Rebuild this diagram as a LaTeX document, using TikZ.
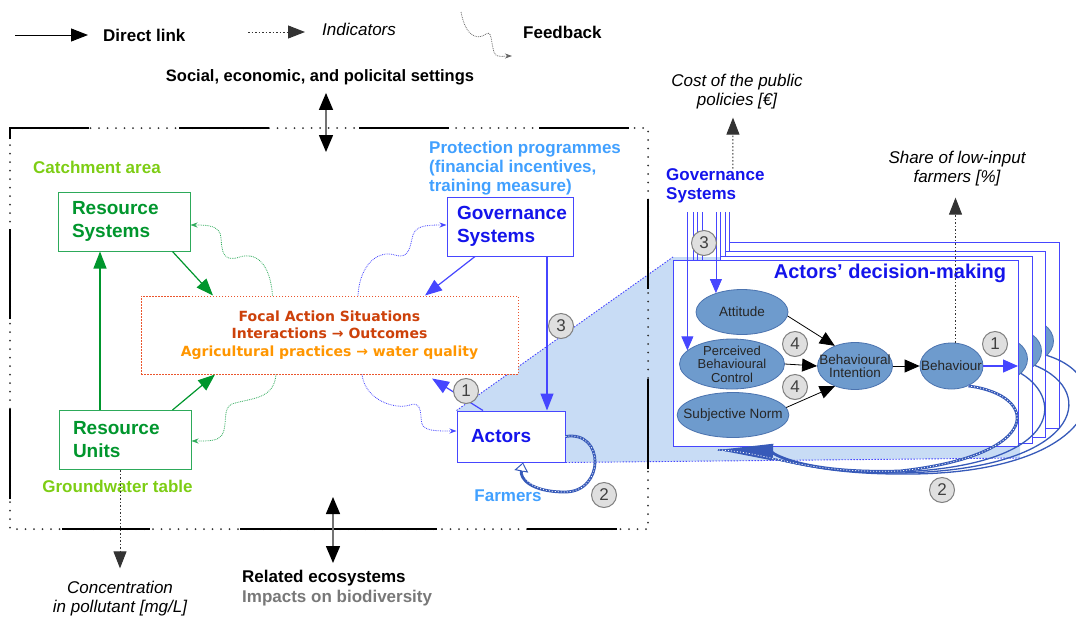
\documentclass[tikz,border=0pt]{standalone}
\usepackage{fontspec}
\setmainfont{Liberation Sans}
\newfontfamily\dejavu{DejaVu Sans}
\usetikzlibrary{arrows.meta, positioning, shapes.geometric, backgrounds}

\definecolor{iadgreen}{RGB}{0,150,45}
\definecolor{iadlgreen}{RGB}{125,205,20}
\definecolor{boxgreen}{RGB}{45,170,90}
\definecolor{iadblue}{RGB}{20,20,235}
\definecolor{boxblue}{RGB}{70,70,255}
\definecolor{iadlblue}{RGB}{65,160,255}
\definecolor{focred}{RGB}{205,65,10}
\definecolor{focorange}{RGB}{255,150,0}
\definecolor{focborder}{RGB}{235,85,45}
\definecolor{tpbfill}{RGB}{110,155,205}
\definecolor{tpbline}{RGB}{75,115,175}
\definecolor{zoomshade}{RGB}{200,220,245}
\definecolor{loopblue}{RGB}{55,90,185}
\definecolor{ecogray}{RGB}{120,120,120}

\tikzset{
  >={Triangle[length=17pt,width=13pt]},
  sysbox/.style={draw, rectangle, fill=white, line width=1pt, minimum height=59pt, align=left, inner ysep=0pt,
                 font=\fontsize{19}{23}\selectfont\bfseries},
  lbl/.style={inner sep=0pt, font=\fontsize{17}{19}\selectfont\bfseries},
  ind/.style={inner sep=0pt, align=center, font=\fontsize{17}{19}\selectfont\itshape},
  indarrow/.style={->, dash pattern=on 1.5pt off 2pt, line width=1pt, draw=black!80},
  dblarrow/.style={<->, >={Triangle[length=17pt,width=14pt,color=black]}, draw=black!55, line width=1.5pt},
  fback/.style={densely dotted, line width=0.8pt, -{Stealth[length=7pt,width=5pt]}},
  tpb/.style={ellipse, draw=tpbline, fill=tpbfill, line width=0.8pt, inner xsep=-10pt, inner ysep=-2pt, align=center,
              text=black!85, font=\fontsize{13.5}{13.5}\selectfont},
  badge/.style={circle, draw=gray, fill=gray!25, line width=1pt, minimum size=25pt, inner sep=0pt, text=black!75,
                font=\fontsize{17}{17}\selectfont},
  govline/.style={draw=boxblue, line width=0.8pt},
  tpbarrow/.style={->, >={Triangle[length=15pt,width=13pt]}, line width=0.8pt},
  loopcurve/.style={draw=loopblue, line width=1.3pt},
  hatchloop/.style={draw=loopblue, line width=2.8pt,
                    postaction={draw=white, line width=0.8pt, dash pattern=on 1pt off 2pt, -}},
}

\begin{document}
\begin{tikzpicture}[x=1pt, y=-1pt, node distance=8pt]
\useasboundingbox (0,0) rectangle (1076,619);

\draw[line width=2pt, line cap=round, dash pattern=on 0pt off 8.5pt, draw=black!80] (10,128) rectangle (648,529);
\draw[line width=1.2pt, dash pattern=on 90pt off 90pt, dash phase=150pt] (10,529) -- (10,128) -- (648,128) -- (648,529);
\draw[line width=1.2pt, dash pattern=on 88pt off 90pt on 197pt off 90pt on 90pt off 140pt, dash phase=643pt] (10,529) -- (648,529);

\node (dlink) [lbl, anchor=west] at (103,35) {Direct link};
\coordinate (dl0) at (15,35);
\draw[->, line width=1pt] (dl0) -- ([xshift=-15pt]dlink.west);
\node (indic) [ind, anchor=west] at (322,29) {Indicators};
\coordinate (in0) at (248,32);
\draw[indarrow] (in0) -- ([xshift=-17pt,yshift=-3pt]indic.west);
\node (fbk) [lbl, anchor=west] at (523,32) {Feedback};
\coordinate (fb0) at (461,12);
\draw[fback, draw=black!60] (fb0) .. controls (466,38) and (478,40) .. (486,34) .. controls (494,28) and (490,56) .. (498,56)
      .. controls (502,57) and (506,56) .. ([xshift=-11pt,yshift=-24pt]fbk.west);

\node (soc) [lbl, font=\fontsize{16.5}{18}\selectfont\bfseries] at (320,77) {Social, economic, and policital settings};
\coordinate (soc1) at (326,152);
\draw[dblarrow] ([yshift=-8pt]soc.south -| soc1) -- (soc1);

\node (eco) [lbl, font=\fontsize{17}{20}\selectfont\bfseries, align=left, anchor=north west] at (242,570)
      {Related ecosystems\\\textcolor{ecogray}{Impacts on biodiversity}};
\coordinate (eco0) at (333,497);
\draw[dblarrow] (eco0) -- ([yshift=7pt]eco.north -| eco0);

\node (rs) [sysbox, draw=boxgreen, text=iadgreen, text width=104pt, inner xsep=14pt] at (124,221.5) {Resource\\Systems};
\node (ru) [sysbox, draw=boxgreen, text=iadgreen, text width=104pt, inner xsep=14pt] at (125,440) {Resource\\Units};
\node (catch) [lbl, text=iadlgreen, anchor=west] at (33,167) {Catchment area};
\node (gwt) [lbl, text=iadlgreen, below=10pt of ru, xshift=-7.5pt] {Groundwater table};
\node (conc) [ind] at (120,599) {Concentration\\in pollutant [mg/L]};
\draw[indarrow] ([xshift=-5pt]ru.south) -- ([yshift=13pt]conc.north);

\node (fas) [draw=focborder, fill=white, dash pattern=on 1.5pt off 1.5pt, line width=1pt, minimum width=377pt,
             minimum height=78pt, align=center, inner sep=0pt, font=\dejavu\bfseries\fontsize{14}{17.5}\selectfont]
      at (329.5,335) {\textcolor{focred}{Focal Action Situations}\\\textcolor{focred}{Interactions → Outcomes}\\
                      \textcolor{focorange}{Agricultural practices → water quality}};

\node (gov) [sysbox, draw=boxblue, text=iadblue, text width=106pt, inner xsep=10pt] at (510,226.5) {Governance\\Systems};
\node (prot) [lbl, text=iadlblue, align=left, anchor=north west] at (429,141)
      {Protection programmes\\(financial incentives,\\training measure)};
\node (act) [sysbox, draw=boxblue, text=iadblue, minimum height=51pt, text width=80pt, inner xsep=14pt] at (511,436.5) {Actors};
\node (farm) [lbl, text=iadlblue, below=27pt of act, xshift=-3pt] {Farmers};

\begin{scope}[on background layer]
  \fill[zoomshade] (act.north west) -- (673,257) -- (1020,257) -- (1020,458) -- (act.south east) -- cycle;
  \draw[boxblue, line width=0.9pt, dash pattern=on 1.5pt off 1.5pt] (act.north west) -- (673,257);
  \draw[boxblue, line width=0.9pt, dash pattern=on 1.5pt off 1.5pt] (act.south east) -- (1020,458);
\end{scope}

\draw[->, draw=iadgreen, line width=1.2pt] ([xshift=-25pt]ru.north) -- ([xshift=-24pt]rs.south);
\draw[->, draw=iadgreen, line width=1.2pt] ([xshift=-18pt]rs.south east) -- ([xshift=-116.5pt]fas.north);
\draw[->, draw=iadgreen, line width=1.2pt] ([xshift=-19pt]ru.north east) -- ([xshift=-114.5pt]fas.south);
\draw[->, draw=boxblue, line width=1.2pt] ([xshift=-35pt]gov.south) -- ([xshift=95.5pt]fas.north);
\draw[->, draw=boxblue, line width=1.2pt] ([xshift=37pt]gov.south) -- ([xshift=36pt]act.north);
\draw[->, draw=boxblue, line width=1.2pt] ([xshift=-28pt]act.north) -- ([xshift=102.5pt,yshift=-4pt]fas.south);

\draw[fback, draw=boxgreen] ([xshift=-57pt]fas.north) .. controls (270,262) and (255,252) .. (240,257)
      .. controls (222,263) and (222,250) .. (221,238) .. controls (220,226) and (210,225) .. ([yshift=-3.5pt]rs.east);
\draw[fback, draw=boxgreen] ([xshift=-53.5pt]fas.south) .. controls (274,400) and (250,398) .. (232,404)
      .. controls (222,408) and (228,425) .. (222,435) .. controls (218,441) and (210,441) .. ([yshift=-1pt]ru.east);
\draw[fback, draw=boxblue] ([xshift=28.5pt]fas.north) .. controls (360,262) and (380,250) .. (395,255)
      .. controls (410,260) and (410,245) .. (413,235) .. controls (416,226) and (425,225) .. ([yshift=1.5pt]gov.west);
\draw[fback, draw=boxblue] ([xshift=32.5pt]fas.south) .. controls (365,400) and (395,410) .. (410,405)
      .. controls (423,400) and (420,418) .. (422,424) .. controls (425,431) and (435,431) .. ([yshift=5.5pt]act.west);

\node (b3a) [badge] at (561,326) {3};
\node (b1a) [badge] at (466,391) {1};
\node (b2a) [badge] at (604,495) {2};
\draw[hatchloop, -{Triangle[open, length=9pt, width=14pt, line width=1pt]}] (act.east)
      .. controls (605,430) and (605,492) .. (565,492) .. controls (530,492) and (520,478) .. ([xshift=12pt]act.south);

\node (gov2) [lbl, text=iadblue, align=left, anchor=west] at (666,186) {Governance\\Systems};
\node (cost) [ind] at (737,92) {Cost of the public\\policies [€]};
\draw[indarrow] ([xshift=17.5pt]gov2.north) -- ([xshift=-4pt,yshift=-8pt]cost.south);
\coordinate (gvtop) at (0,212);

\foreach \gx/\gy/\bx/\by/\ex/\ey/\k in {729/242/1059/428/1022/341/1, 725/251/1045/437/1010/351/2, 720/256/1032/443/996/359/3} {
  \draw[govline] (\gx,212) -- (\gx,\gy);
  \filldraw[govline, fill=white] (\gx,\gy) rectangle (\bx,\by);
  \node (behcopy\k) [tpb, minimum width=63pt, minimum height=46pt] at (\ex,\ey) {};
}
\foreach \gx in {693,697,702}
  \draw[govline] (\gx,212) -- (\gx,260);

\node (dm) [draw=boxblue, fill=white, line width=1pt, minimum width=345pt, minimum height=186pt, inner sep=0pt] at (845.5,353) {};
\node (dmtitle) [lbl, text=iadblue, font=\fontsize{20}{22}\selectfont\bfseries] at (890,273) {Actors’ decision-making};

\node (att) [tpb, minimum width=92pt, minimum height=45pt] at (742,312) {Attitude};
\node (pbc) [tpb, minimum width=105pt, minimum height=50pt, font=\fontsize{13}{13.5}\selectfont] at (732,364) {Perceived\\Behavioural\\Control};
\node (sn) [tpb, minimum width=110pt, minimum height=45pt] at (733,415) {Subjective Norm};
\node (bi) [tpb, minimum width=75pt, minimum height=47pt] at (855,366) {Behavioural\\Intention};
\node (beh) [tpb, minimum width=63pt, minimum height=46pt] at (951.5,366) {Behaviour};
\coordinate (dmedge) at (1018,366);

\draw[tpbarrow] (att.-5) -- (bi.135);
\draw[tpbarrow] (pbc.east) -- (bi.west);
\draw[tpbarrow] (sn.8) -- (bi.-135);
\draw[tpbarrow] (bi.east) -- (beh.west);
\draw[->, >={Triangle[length=15pt,width=13pt]}, draw=boxblue, line width=1.2pt] (beh.east) -- (dmedge);
\draw[govline, ->, >={Triangle[length=14pt,width=12pt]}] (att.144 |- gvtop) -- (att.144);
\draw[govline, ->, >={Triangle[length=14pt,width=12pt]}] (pbc.163 |- gvtop) -- (pbc.163);

\node (share) [ind] at (957,169) {Share of low-input\\farmers [\%]};
\draw[indarrow] ([xshift=4pt]beh.north) -- ([xshift=-1.5pt,yshift=-11pt]share.south);

\node (b3b) [badge] at (704,243) {3};
\node (b4a) [badge] at (795,344) {4};
\node (b4b) [badge] at (795,387) {4};
\node (b1b) [badge] at (995,344) {1};
\node (b2b) [badge] at (942,490) {2};

\coordinate (fbend) at ([xshift=-15pt,yshift=-12pt]sn.south);
\draw[loopcurve] (behcopy1.-30) .. controls (1125,380) and (1095,476) .. (900,474) .. controls (800,474) and (770,452) .. (fbend);
\draw[loopcurve] (behcopy2.-30) .. controls (1100,392) and (1080,470) .. (900,473) .. controls (800,474) and (770,452) .. (fbend);
\draw[loopcurve] (behcopy3.-30) .. controls (1065,400) and (1060,465) .. (900,472) .. controls (800,474) and (770,452) .. (fbend);
\draw[hatchloop, -{Triangle[length=55pt, width=16pt]}] (beh.-50) .. controls (1040,395) and (1045,455) .. (900,471)
      .. controls (800,474) and (770,452) .. (fbend);
\end{tikzpicture}
\end{document}
